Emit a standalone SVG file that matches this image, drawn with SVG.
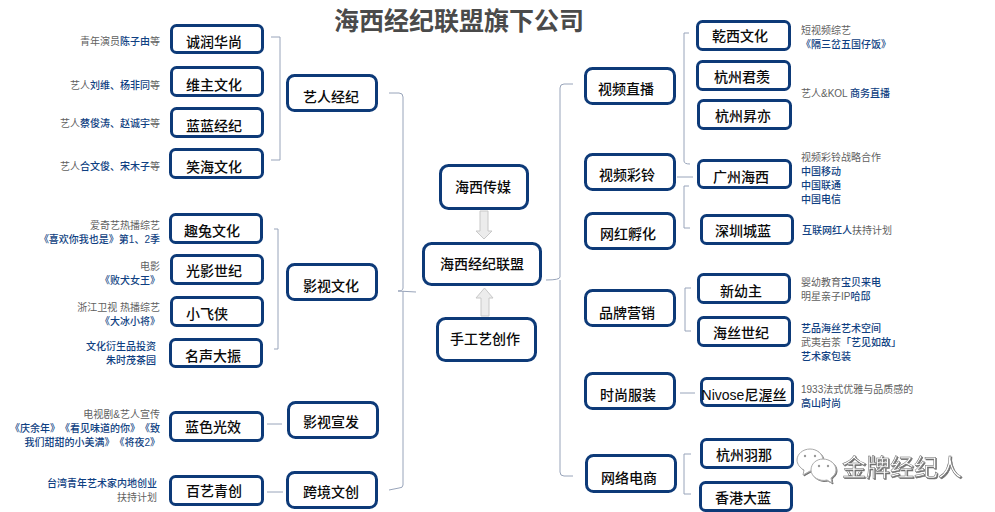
<svg xmlns="http://www.w3.org/2000/svg" width="995" height="512" viewBox="0 0 995 512">
<style>
text{font-family:"Liberation Sans","Noto Sans CJK SC",sans-serif;text-spacing-trim:space-all}
.n rect{fill:#fff;stroke:#0d3a78;stroke-width:3}
.n text{font-size:14px;fill:#0a0a0a;text-anchor:middle;font-weight:500}
.c{fill:none;stroke:#98a4ba;stroke-width:1}
.s{font-size:10px;fill:#5f5f5f}
.e{text-anchor:end}
.b{fill:#0f3f82;font-weight:500}
.wm{font-size:24px;fill:#fff;stroke:#666;stroke-width:.5;filter:url(#sh)}
.bub{fill:#fff;stroke:#aaa;stroke-width:1;filter:url(#sh)}
.ar{fill:#ececec;stroke:#c8c8c8}
</style>
<defs><filter id="sh" x="-10%" y="-10%" width="125%" height="130%"><feDropShadow dx="1" dy="1" stdDeviation=".5" flood-color="#333" flood-opacity=".7"/></filter></defs>
<rect width="995" height="512" fill="#fff"/>
<text x="459" y="30" font-size="25" font-weight="700" fill="#4a4a4a" text-anchor="middle">海西经纪联盟旗下公司</text>
<g id="connectors">
<path class="c" d="M271 37H280V160H271"/>
<path class="c" d="M274 229H278V349H274"/>
<path class="c" d="M267 424H282"/>
<path class="c" d="M267 492H283"/>
<path class="c" d="M389 93H399Q403 93 403 97V288Q403 291 398 291L416 292M403 291V485Q403 488 399 488L389 490"/>
<path class="c" d="M573 84H564Q560 84 560 88V277Q560 280 546 280M560 280V472Q560 476 564 476H573"/>
<path class="c" d="M689 33H684V161Q684 164 690 164"/>
<path class="c" d="M677 177H693"/>
<path class="c" d="M689 186H684V228H690"/>
<path class="c" d="M691 288H685V331H691"/>
<path class="c" d="M680 393H695"/>
<path class="c" d="M691 454H684V494H691"/>
<path class="ar" d="M480 211H488V231H492L484 239L476 231H480Z"/>
<path class="ar" d="M481 316V298H476L484.500 288L493 298H489V316Z"/>
</g>
<g id="n1" class="n"><rect x="171.500" y="25.500" width="91" height="27" rx="5"/><text x="214" y="47">诚润华尚</text></g>
<g id="n2" class="n"><rect x="171.500" y="67.500" width="91" height="28" rx="5"/><text x="214" y="90">维主文化</text></g>
<g id="n3" class="n"><rect x="171.500" y="108.500" width="91" height="28" rx="5"/><text x="214" y="131">蓝蓝经纪</text></g>
<g id="n4" class="n"><rect x="170.500" y="149.500" width="92" height="28" rx="5"/><text x="214" y="172">笑海文化</text></g>
<g id="n5" class="n"><rect x="170.500" y="214.500" width="91" height="28" rx="5"/><text x="212" y="236">趣兔文化</text></g>
<g id="n6" class="n"><rect x="171.500" y="255.500" width="91" height="28" rx="5"/><text x="214" y="276">光影世纪</text></g>
<g id="n7" class="n"><rect x="171.500" y="297.500" width="91" height="28" rx="5"/><text x="207" y="319">小飞侠</text></g>
<g id="n8" class="n"><rect x="170.500" y="339.500" width="91" height="27" rx="5"/><text x="213" y="361">名声大振</text></g>
<g id="n9" class="n"><rect x="170.500" y="412.500" width="92" height="28" rx="5"/><text x="213" y="432">蓝色光效</text></g>
<g id="n10" class="n"><rect x="170.500" y="476.500" width="92" height="28" rx="5"/><text x="214" y="496">百艺青创</text></g>
<g id="n11" class="n"><rect x="287.500" y="75.500" width="89" height="35" rx="7"/><text x="331" y="102">艺人经纪</text></g>
<g id="n12" class="n"><rect x="287.500" y="264.500" width="89" height="35" rx="7"/><text x="331" y="291">影视文化</text></g>
<g id="n13" class="n"><rect x="288.500" y="402.500" width="89" height="35" rx="7"/><text x="331" y="427">影视宣发</text></g>
<g id="n14" class="n"><rect x="287.500" y="472.500" width="89" height="35" rx="7"/><text x="331" y="497">跨境文创</text></g>
<g id="n15" class="n"><rect x="440.500" y="165.500" width="87" height="43" rx="8"/><text x="483" y="192">海西传媒</text></g>
<g id="n16" class="n"><rect x="423.500" y="243.500" width="117" height="41" rx="8"/><text x="482" y="269">海西经纪联盟</text></g>
<g id="n17" class="n"><rect x="437.500" y="318.500" width="98" height="42" rx="8"/><text x="485" y="344">手工艺创作</text></g>
<g id="n18" class="n"><rect x="585.500" y="68.500" width="89" height="35" rx="7"/><text x="626" y="94">视频直播</text></g>
<g id="n19" class="n"><rect x="585.500" y="154.500" width="89" height="35" rx="7"/><text x="627" y="180">视频彩铃</text></g>
<g id="n20" class="n"><rect x="585.500" y="213.500" width="89" height="35" rx="7"/><text x="628" y="239">网红孵化</text></g>
<g id="n21" class="n"><rect x="585.500" y="290.500" width="89" height="35" rx="7"/><text x="627" y="318">品牌营销</text></g>
<g id="n22" class="n"><rect x="585.500" y="373.500" width="89" height="35" rx="7"/><text x="628" y="400">时尚服装</text></g>
<g id="n23" class="n"><rect x="586.500" y="455.500" width="89" height="36" rx="7"/><text x="629" y="483">网络电商</text></g>
<g id="n24" class="n"><rect x="697.500" y="21.500" width="92" height="28" rx="5"/><text x="740" y="41">乾西文化</text></g>
<g id="n25" class="n"><rect x="697.500" y="61.500" width="92" height="28" rx="5"/><text x="742" y="82">杭州君羡</text></g>
<g id="n26" class="n"><rect x="698.500" y="100.500" width="92" height="28" rx="5"/><text x="743" y="121">杭州昇亦</text></g>
<g id="n27" class="n"><rect x="698.500" y="160.500" width="92" height="27" rx="5"/><text x="741" y="182">广州海西</text></g>
<g id="n28" class="n"><rect x="701.500" y="215.500" width="91" height="28" rx="5"/><text x="743" y="236">深圳城蓝</text></g>
<g id="n29" class="n"><rect x="698.500" y="274.500" width="91" height="28" rx="5"/><text x="741" y="296">新幼主</text></g>
<g id="n30" class="n"><rect x="698.500" y="317.500" width="91" height="28" rx="5"/><text x="741" y="338">海丝世纪</text></g>
<g id="n31" class="n"><rect x="701.500" y="378.500" width="91" height="27" rx="5"/><text x="744" y="400">Nivose尼渥丝</text></g>
<g id="n32" class="n"><rect x="701.500" y="439.500" width="91" height="28" rx="5"/><text x="744" y="460">杭州羽那</text></g>
<g id="n33" class="n"><rect x="700.500" y="482.500" width="91" height="28" rx="5"/><text x="743" y="503">香港大蓝</text></g>
<g id="labels">
<text class="s e" x="160" y="45">青年演员<tspan class="b">陈子由</tspan>等</text>
<text class="s e" x="160" y="89">艺人<tspan class="b">刘维、杨非同</tspan>等</text>
<text class="s e" x="160" y="127">艺人<tspan class="b">蔡俊涛、赵诚宇</tspan>等</text>
<text class="s e" x="160" y="170">艺人<tspan class="b">合文俊、宋木子</tspan>等</text>
<text class="s e" x="160" y="229">爱奇艺热播综艺</text>
<text class="s e b" x="160" y="243">《喜欢你我也是》第1、2季</text>
<text class="s e" x="160" y="270">电影</text>
<text class="s e b" x="160" y="284">《败犬女王》</text>
<text class="s e" x="160" y="311">浙江卫视 热播综艺</text>
<text class="s e b" x="160" y="325">《大冰小将》</text>
<text class="s e b" x="156" y="350">文化衍生品投资</text>
<text class="s e b" x="156" y="364">朱时茂茶园</text>
<text class="s e" x="160" y="418">电视剧&amp;艺人宣传</text>
<text class="s e b" x="160" y="432">《庆余年》《看见味道的你》《致</text>
<text class="s e b" x="160" y="446">我们甜甜的小美满》《将夜2》</text>
<text class="s e b" x="157" y="487">台湾青年艺术家内地创业</text>
<text class="s e" x="157" y="501">扶持计划</text>
<text class="s" x="801" y="34">短视频综艺</text>
<text class="s b" x="801" y="48">《隔三岔五国仔饭》</text>
<text class="s" x="801" y="97">艺人&amp;KOL <tspan class="b">商务直播</tspan></text>
<text class="s" x="801" y="161">视频彩铃战略合作</text>
<text class="s b" x="801" y="175">中国移动</text>
<text class="s b" x="801" y="189">中国联通</text>
<text class="s b" x="801" y="203">中国电信</text>
<text class="s" x="802" y="234"><tspan class="b">互联网红人</tspan>扶持计划</text>
<text class="s" x="801" y="286">婴幼教育<tspan class="b">宝贝来电</tspan></text>
<text class="s" x="801" y="300">明星亲子IP<tspan class="b">哈邱</tspan></text>
<text class="s b" x="801" y="332">艺品海丝艺术空间</text>
<text class="s" x="801" y="346">武夷岩茶<tspan class="b">「艺见如故」</tspan></text>
<text class="s b" x="801" y="360">艺术家包装</text>
<text class="s" x="801" y="393">1933法式优雅与品质感的</text>
<text class="s b" x="801" y="407">高山时尚</text>
</g>
<g id="watermark">
<path class="bub" d="M810 449C817 449 823 454 823 460C823 466 817 471 810 471L803 475L804 470C800 468 797 464 797 460C797 454 803 449 810 449Z"/>
<path class="bub" d="M823 459C830 459 836 464 836 470C836 473 834 476 831 478L832 483L827 480C820 482 811 477 811 470C811 464 816 459 823 459Z"/>
<circle cx="805" cy="456" r="1.200" fill="#999"/><circle cx="815" cy="456" r="1.200" fill="#999"/>
<circle cx="819" cy="466" r="1.200" fill="#999"/><circle cx="828" cy="466" r="1.200" fill="#999"/>
<text class="wm" x="842" y="476">金牌经纪人</text>
</g>
</svg>
